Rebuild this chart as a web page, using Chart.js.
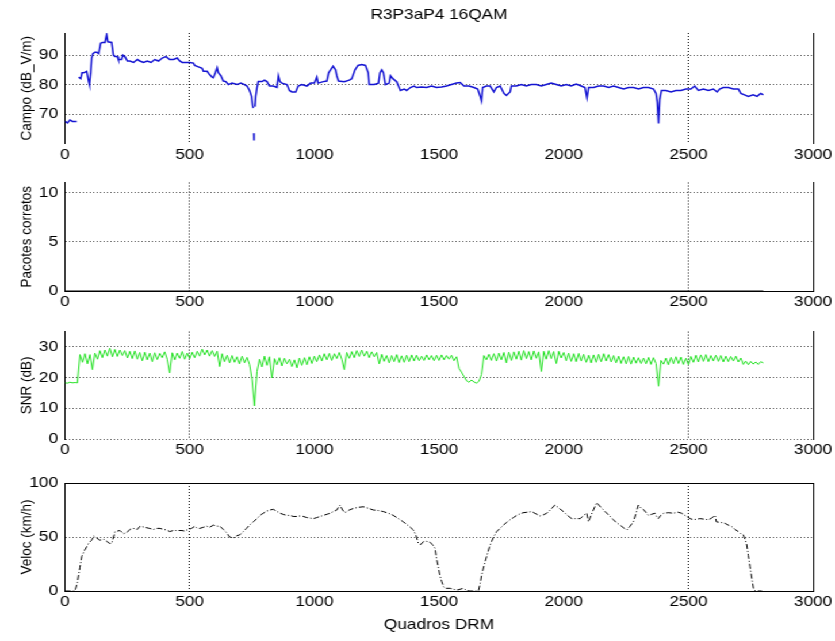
<!DOCTYPE html>
<html>
<head>
<meta charset="utf-8">
<script src="https://cdn.jsdelivr.net/npm/chart.js@4/dist/chart.umd.min.js"></script>
<style>
  body { margin: 0; background: #fff; }
  /* the original figure is a bit stretched sideways, so the whole page is too */
  #fig { position: relative; width: 726px; height: 641px; transform: scaleX(1.1501); transform-origin: 0 0; }
  .box { position: absolute; left: 0; width: 726px; }
</style>
</head>
<body>
<div id="fig">
  <div class="box" style="top:0;height:170px"><canvas id="campoChart"></canvas></div>
  <div class="box" style="top:170px;height:145px"><canvas id="pacotesChart"></canvas></div>
  <div class="box" style="top:315px;height:150px"><canvas id="snrChart"></canvas></div>
  <div class="box" style="top:465px;height:176px"><canvas id="velChart"></canvas></div>
</div>
<script>
// =========================
// DATA
// =========================
const titleText = "R3P3aP4 16QAM";
const xTitle = "Quadros DRM";
const xTicks = [0, 500, 1000, 1500, 2000, 2500, 3000];
const xGridShown = [500, 2500];

// Campo (dB_V/m)
const campoX = [0, 10, 20, 30, 47, 50, 55, 63, 68, 75, 87, 95, 98, 103, 107, 112, 120, 127, 135, 143, 150, 160, 167, 172, 187, 194,
  200, 210, 214, 227, 232, 240, 250, 260, 275, 290, 300, 315, 330, 345, 360, 375, 390, 405, 420, 435, 450, 460, 470, 488,
  500, 515, 520, 535, 550, 555, 570, 580, 590, 595, 603, 610, 615, 625, 635, 645, 655, 670, 690, 705, 720, 730, 740, 748,
  752, 755, 756, 757, 758, 759, 762, 765, 770, 775, 790, 800, 810, 820, 835, 850, 856, 862, 870, 890, 900, 910, 925, 935,
  950, 970, 985, 1000, 1010, 1015, 1036, 1050, 1057, 1065, 1075, 1085, 1090, 1097, 1120, 1140, 1150, 1163, 1175, 1190,
  1205, 1216, 1220, 1240, 1257, 1263, 1270, 1277, 1285, 1300, 1305, 1315, 1330, 1345, 1360, 1370, 1385, 1400, 1410, 1430,
  1450, 1470, 1490, 1510, 1530, 1550, 1570, 1585, 1600, 1620, 1640, 1655, 1665, 1670, 1675, 1690, 1705, 1720, 1730, 1745,
  1760, 1770, 1785, 1790, 1810, 1830, 1850, 1870, 1890, 1910, 1930, 1950, 1970, 1990, 2010, 2030, 2050, 2070, 2085, 2093,
  2100, 2120, 2140, 2160, 2180, 2200, 2220, 2240, 2260, 2280, 2300, 2320, 2340, 2360, 2370, 2375, 2380, 2385, 2392, 2410,
  2430, 2450, 2470, 2490, 2510, 2525, 2540, 2560, 2580, 2600, 2615, 2625, 2640, 2660, 2680, 2700, 2710, 2725, 2740, 2760,
  2775, 2790, 2800];
const campoY = [67.5, 67, 68, 67.5, 67.5, null, 82.5, 82, 84, 84, 84.5, 81, 80, 84, 89, 90.5, 91, 91, 90.5, 94, 94.3, 94.3, 97, 94.5, 94.3, 90,
  89.5, 89.5, 88.5, 88.5, 90, 89.5, 88, 88, 87.5, 88.5, 88, 87.5, 88, 87.5, 88.5, 88, 89, 89.5, 88.5, 88.5, 89, 88, 87.5, 87.5,
  87.5, 87.3, 86.5, 86, 85.5, 84.5, 84.5, 83.4, 82.5, 82.3, 84, 85.7, 84, 83, 81.2, 81, 80, 80.5, 80, 80.5, 80, 79.5, 78, 76,
  73, 72, null, 63.5, 61, null, 72.5, 76, 79, 81, 81, 81.5, 81, 79.5, 79.5, 79, 83, 81, 80.5, 80, 78, 77.5, 77.5, 79.5,
  80, 79.5, 80.5, 80.5, 82.5, 80.5, 81, 81.2, 84, 85, 86.2, 85, 83, 81.2, 81, 81.5, 82, 85, 86.5, 86.8,
  86.5, 84, 80, 80, 80.5, 84, 85, 84, 80, 80.5, 83, 82, 81, 78, 78.5, 78, 79, 79.5, 79, 79.2,
  79, 79.5, 79, 79.2, 79.5, 80, 80.5, 80.7, 79.5, 79.5, 79, 78.5, 76, 74.5, 79, 79.5, 79.5, 77.5, 79, 79.5,
  77, 76.3, 77.5, 79.5, 79.5, 80, 79.5, 80, 80, 79.5, 80, 80.5, 80, 79.5, 80, 79.5, 80.2, 79.5, 79, 75.5,
  79, 79, 79.5, 79.5, 79, 79.5, 79, 78.5, 79, 79, 78.5, 79, 79, 78.5, 77, 74, 66.8, 75, 78, 78,
  77.5, 78, 78, 78.5, 78.5, 79.5, 78, 78.5, 78, 78.5, 77.5, 78.5, 79, 79, 78.5, 78.5, 77, 76.5, 76, 76.5,
  76, 77, 76.5];

// Pacotes corretos (nothing received)
const pacotesX = [0, 2800];
const pacotesY = [0, 0];

// SNR (dB), one value every 10 frames, one row per 100 frames
const snrStep = 10;
const snrY = [
  18.3, 18.2, 18.5, 18.3, 18.4, 18.3, 27.5, 25, 27.8, 24.5,
  27.5, 22.6, 28, 26, 28.8, 26.5, 29, 27, 29.6, 26.8,
  29.2, 26.9, 29, 27.2, 28.8, 26.4, 28.6, 26.2, 28.7, 26,
  28.2, 25.5, 28.3, 25.8, 28, 25.2, 28.1, 25.9, 27.9, 26.5,
  28.4, 26, 21.5, 28.1, 25.8, 28, 26.3, 28.5, 26, 28,
  26.2, 28.3, 26.5, 28.6, 27, 29.3, 27.4, 29, 27, 28.8,
  26.9, 28.6, 23.6, 27.8, 25.2, 27.3, 24.8, 27.2, 25, 26.8,
  24.5, 27, 24.8, 26.6, 24.3, 19.5, 10.8, 22, 26, 23.5,
  27, 24, 26.8, 19.9, 26.2, 24.2, 26.5, 23.8, 26.3, 24.5,
  26, 23.6, 25.8, 23.2, 26.4, 24, 26.5, 24.2, 26.8, 24.6,
  27, 25.2, 27.4, 25.4, 27.8, 25.8, 27.9, 25.6, 27.8, 26.2,
  28.2, 26, 22.6, 28.2, 26.3, 28.5, 26.5, 28.8, 26.9, 29,
  27, 28.6, 26.5, 28.4, 26.8, 28.2, 24.5, 27.6, 25.3, 27.2,
  24.8, 27.2, 25.2, 27.5, 24.9, 27.1, 25, 27.3, 25.2, 27.4,
  25.4, 27.3, 25.5, 27, 25.6, 27.4, 25.8, 27.2, 25.5, 27.3,
  25.6, 27.4, 25.8, 27.2, 26, 27.3, 25.5, 26.8, 23, 21.8,
  20.4, 19, 18.5, 19.2, 18.6, 18.2, 18.8, 21, 27.2, 25.8,
  27.6, 25.6, 27.8, 25.4, 28, 25.8, 28.2, 24.8, 28.3, 25.6,
  28.4, 26, 28.6, 25.7, 28.8, 26.2, 28.5, 25.8, 28.7, 26.3,
  28.4, 22, 28.6, 26, 28.8, 26.2, 28.5, 24.6, 28.6, 26.4,
  28.2, 25.5, 28, 25.3, 27.8, 25.2, 27.9, 25.4, 27.6, 25,
  27.3, 24.8, 27.4, 25, 27.6, 25.2, 27.8, 25.4, 27.5, 25.1,
  27.2, 24.8, 27, 24.6, 26.8, 24.5, 26.9, 24.4, 26.7, 24.7,
  26.5, 24.6, 26.4, 24.5, 26.6, 24.3, 26.5, 24.6, 17.2, 25.6,
  24.4, 26.4, 24.2, 26.6, 24.5, 26.8, 24.6, 26.7, 24.3, 26.3,
  24.2, 26.9, 25, 27.3, 25.1, 27.4, 25.3, 27.5, 25.2, 27.2,
  25.4, 27.3, 25.3, 27.2, 25.1, 27, 25.2, 26.9, 25.4, 27,
  25.1, 26.4, 24.3, 25.4, 24.2, 25.3, 24.4, 25.1, 24.3, 25.2,
  24.8
];

// Veloc (km/h)
const velX = [0, 20, 40, 50, 60, 67, 77, 87, 97, 107, 115, 127, 140, 155, 167, 180, 187, 201, 220, 235, 247, 260, 274, 290,
  301, 320, 338, 355, 370, 381, 395, 408, 420, 434, 450, 468, 480, 494, 508, 521, 530, 541, 555, 568, 580, 595, 610, 621,
  635, 648, 660, 675, 688, 701, 715, 728, 740, 755, 770, 782, 795, 809, 822, 835, 848, 862, 875, 889, 902, 916, 930, 943,
  956, 969, 983, 996, 1010, 1023, 1036, 1050, 1063, 1076, 1090, 1103, 1113, 1123, 1140, 1157, 1177, 1197, 1217, 1237,
  1257, 1277, 1297, 1317, 1337, 1357, 1377, 1397, 1407, 1417, 1427, 1437, 1450, 1464, 1474, 1484, 1490, 1497, 1504, 1511,
  1518, 1524, 1544, 1560, 1575, 1598, 1610, 1625, 1658, 1665, 1671, 1681, 1691, 1701, 1711, 1721, 1731, 1745, 1758, 1771,
  1785, 1798, 1812, 1825, 1838, 1855, 1872, 1888, 1905, 1918, 1932, 1948, 1965, 1982, 1999, 2015, 2032, 2050, 2066, 2080,
  2092, 2099, 2115, 2132, 2149, 2166, 2182, 2199, 2213, 2226, 2240, 2253, 2266, 2279, 2290, 2299, 2309, 2319, 2329, 2339,
  2352, 2366, 2372, 2379, 2389, 2400, 2420, 2440, 2457, 2473, 2483, 2493, 2507, 2520, 2533, 2547, 2563, 2580, 2593, 2607,
  2612, 2630, 2647, 2660, 2674, 2687, 2700, 2710, 2720, 2727, 2734, 2740, 2747, 2754, 2761, 2768, 2795];
const velY = [0, 0, 0, 8, 22, 32, 37, 41, 45, 47, 51, 49, 47, 48, 46, 44, 44, 55, 56, 53, 54, 57, 58, 57,
  60, 59, 58, 57, 58, 58, 57, 56.5, 55, 56, 56, 56, 55.5, 57, 58, 60, 58, 58, 59, 60, 59, 61, 60, 60,
  57, 54, 50, 49, 51, 52, 55, 58, 61, 64, 67, 70, 72, 74, 75, 75.6, 74, 72, 71, 70, 70, 69, 69, 69.5,
  69, 68, 67.5, 67, 68, 69, 70, 71, 72, 73.5, 75, 79.6, 75, 72.5, 75, 76.5, 77.5, 78, 76.5, 75,
  74.5, 73.5, 72, 70, 67, 64, 60.5, 56.5, 52, 44, 43, 45.7, 46, 45, 43, 39.5, 30, 22.5, 14, 8.6,
  4, 2.5, 2.5, 1.5, 1, 2.5, 0.5, 0, 0, 7, 15, 24, 32, 40, 46, 51, 55, 58, 61, 63.5,
  66, 68, 70, 71.5, 72.5, 73, 73.5, 71.5, 69.5, 70.5, 72, 75.5, 79.6, 76.5, 73.5, 70, 67, 67, 67, 70,
  72, 64, 73, 81.8, 77.5, 73.5, 70, 66, 63, 61, 58.5, 56.5, 60, 64, 72, 79.6, 77, 75.6, 73, 70,
  71, 72, 69, 67, 70, 72, 72.5, 72, 73, 72, 70.5, 69, 67, 66, 66.5, 67, 66.5, 66, 67.5, 70,
  64, 63.5, 62.6, 61, 59.6, 57, 55, 53, 52, 48, 42.6, 33, 22.5, 12, 2.5, 0, 0];

// =========================
// SETUP
// =========================
Chart.defaults.font.family = "'Liberation Sans', Arial, sans-serif";
Chart.defaults.font.size = 15;
Chart.defaults.color = "#000";

const Y_AXIS_W = 56.5;   // left margin up to the axis line
const RIGHT_PAD = 19;
const gridDots = [1, 2];

function points(xs, ys) {
    return xs.map((x, i) => ({ x: x, y: ys[i] }));
}

function makePlot(id, p) {
    const ctx = document.getElementById(id).getContext("2d");
    const scales = {
        x: {
            type: "linear", min: 0, max: 3000,
            afterBuildTicks: s => { s.ticks = xTicks.map(v => ({ value: v })); },
            afterFit: s => { s.height = p.xHeight; s.paddingLeft = 0; s.paddingRight = 0; },
            ticks: { padding: 2, maxRotation: 0, autoSkip: false, callback: v => String(v) },
            grid: {
                drawTicks: false,
                color: c => (c.tick && xGridShown.includes(c.tick.value)) ? "#000" : "rgba(0,0,0,0)"
            },
            border: { display: p.bottomLine, color: "#000", width: 1, dash: gridDots },
            title: p.xTitle ? { display: true, text: p.xTitle, font: { size: 15 }, padding: { top: 0, bottom: 7 } } : { display: false }
        },
        top: {
            type: "linear", position: "top", min: 0, max: 3000, display: true,
            afterFit: s => { s.height = p.topHeight || 0; s.paddingLeft = 0; s.paddingRight = 0; },
            ticks: { display: false },
            grid: { display: false },
            border: { display: !!p.topLine, color: "#000", width: 1 },
            title: p.title ? { display: true, text: p.title, font: { size: 15 }, padding: { top: 6, bottom: 0 } } : { display: false }
        },
        y: {
            min: p.yMin, max: p.yMax,
            afterBuildTicks: s => { s.ticks = p.yTicks.map(v => ({ value: v })); },
            afterFit: s => { s.width = Y_AXIS_W; s.paddingTop = 0; s.paddingBottom = 0; },
            ticks: { padding: 6 },
            grid: { drawTicks: false, color: "#555" },
            border: { display: true, color: "#000", width: 1, dash: gridDots },
            title: { display: true, text: p.yTitle, font: { size: 13.5 }, padding: { top: 15, bottom: 0 } }
        },
        right: {
            position: "right", min: p.yMin, max: p.yMax, display: true,
            afterFit: s => { s.width = 0; s.paddingTop = 0; s.paddingBottom = 0; },
            ticks: { display: false },
            grid: { display: false },
            border: { display: true, color: "#000", width: 1 }
        }
    };

    new Chart(ctx, {
        type: "line",
        data: {
            datasets: [{
                data: points(p.xs, p.ys),
                borderColor: p.color,
                borderWidth: p.width || 1,
                borderDash: p.dash || [],
                pointRadius: 0,
                tension: 0,
                spanGaps: false,
                fill: false
            }]
        },
        options: {
            responsive: true,
            maintainAspectRatio: false,
            animation: false,
            events: [],
            layout: { padding: { top: p.padTop, right: RIGHT_PAD, bottom: 0, left: 0 } },
            plugins: { legend: { display: false }, tooltip: { enabled: false }, title: { display: false } },
            scales: scales
        }
    });
}

// =========================
// PLOTS
// =========================
makePlot("campoChart", {
    xs: campoX, ys: campoY, color: "#1414d2", width: 1.5,
    yMin: 60, yMax: 97.5, yTicks: [70, 80, 90], yTitle: "Campo (dB_V/m)",
    padTop: 0, topHeight: 33, title: titleText, xHeight: 26.5, bottomLine: false
});

makePlot("pacotesChart", {
    xs: pacotesX, ys: pacotesY, color: "#000", width: 1,
    yMin: 0, yMax: 11, yTicks: [0, 5, 10], yTitle: "Pacotes corretos",
    padTop: 12.5, xHeight: 24, bottomLine: true
});

const snrX = snrY.map((v, i) => i * snrStep);
makePlot("snrChart", {
    xs: snrX, ys: snrY, color: "#22e022", width: 1,
    yMin: 0, yMax: 35, yTicks: [0, 10, 20, 30], yTitle: "SNR (dB)",
    padTop: 16.6, xHeight: 26, bottomLine: false
});

makePlot("velChart", {
    xs: velX, ys: velY, color: "#000", width: 1, dash: [5, 2, 1, 2],
    yMin: 0, yMax: 100, yTicks: [0, 50, 100], yTitle: "Veloc (km/h)",
    padTop: 18, xHeight: 50, bottomLine: true, topLine: true, xTitle: xTitle
});
</script>
</body>
</html>
